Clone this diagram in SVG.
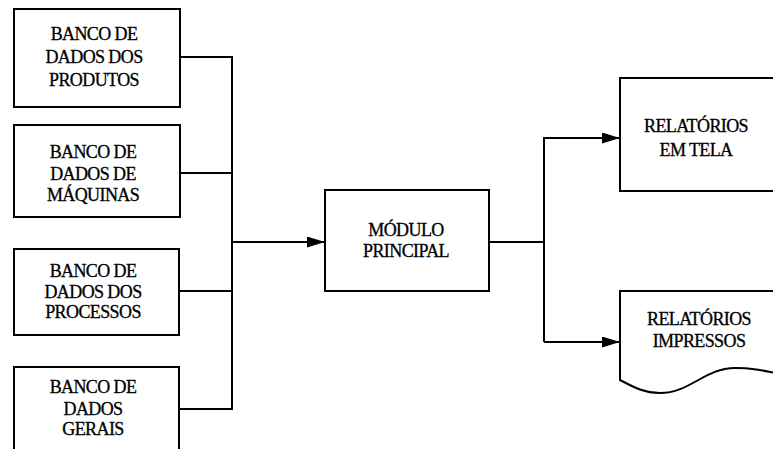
<svg xmlns="http://www.w3.org/2000/svg" width="773" height="449" viewBox="0 0 773 449">
<style>
.box{fill:none;stroke:#000;stroke-width:2}
.c{fill:none;stroke:#000;stroke-width:2}
.t{font-family:"Liberation Serif",serif;font-size:18px;fill:#000;text-anchor:middle;letter-spacing:-0.6px;stroke:#000;stroke-width:0.3}
</style>
<defs>
<marker id="ah" viewBox="0 0 18 11" refX="18" refY="5.5" markerWidth="18" markerHeight="11" markerUnits="userSpaceOnUse" orient="auto">
<path d="M0,0 L18,5.5 L0,11 Z" fill="#000"/>
</marker>
</defs>
<rect width="773" height="449" fill="#fff"/>
<g id="n1">
<rect class="box" x="14" y="9" width="166" height="98"/>
<text class="t" font-family="Liberation Serif" font-size="18" x="94" y="40">BANCO DE</text>
<text class="t" font-family="Liberation Serif" font-size="18" x="94" y="63">DADOS DOS</text>
<text class="t" font-family="Liberation Serif" font-size="18" x="94" y="86">PRODUTOS</text>
</g>
<g id="n2">
<rect class="box" x="14" y="125" width="166" height="92"/>
<text class="t" font-family="Liberation Serif" font-size="18" x="93" y="158">BANCO DE</text>
<text class="t" font-family="Liberation Serif" font-size="18" x="93" y="180">DADOS DE</text>
<text class="t" font-family="Liberation Serif" font-size="18" x="93" y="201">MÁQUINAS</text>
</g>
<g id="n3">
<rect class="box" x="14" y="249" width="165" height="86"/>
<text class="t" font-family="Liberation Serif" font-size="18" x="93" y="277">BANCO DE</text>
<text class="t" font-family="Liberation Serif" font-size="18" x="93" y="298">DADOS DOS</text>
<text class="t" font-family="Liberation Serif" font-size="18" x="93" y="318">PROCESSOS</text>
</g>
<g id="n4">
<path class="box" d="M14,460 V367 H179 V460"/>
<text class="t" font-family="Liberation Serif" font-size="18" x="93" y="393">BANCO DE</text>
<text class="t" font-family="Liberation Serif" font-size="18" x="93" y="415">DADOS</text>
<text class="t" font-family="Liberation Serif" font-size="18" x="93" y="435">GERAIS</text>
</g>
<g id="n5">
<rect class="box" x="325" y="190" width="164" height="101"/>
<text class="t" font-family="Liberation Serif" font-size="18" x="406" y="236">MÓDULO</text>
<text class="t" font-family="Liberation Serif" font-size="18" x="406" y="257">PRINCIPAL</text>
</g>
<g id="n6">
<path class="box" d="M790,78 H620 V191 H790"/>
<text class="t" font-family="Liberation Serif" font-size="18" x="696" y="132">RELATÓRIOS</text>
<text class="t" font-family="Liberation Serif" font-size="18" x="696" y="156">EM TELA</text>
</g>
<g id="n7">
<path class="box" d="M790,291 H620 V380 C635,388 645,393 660,393 C690,393 705,368 735,368 C755,368 765,371 790,376"/>
<text class="t" font-family="Liberation Serif" font-size="18" x="699" y="325">RELATÓRIOS</text>
<text class="t" font-family="Liberation Serif" font-size="18" x="699" y="347">IMPRESSOS</text>
</g>
<g id="connectors">
<path class="c" d="M180,57 H232 V409 H179"/>
<path class="c" d="M180,173 H232"/>
<path class="c" d="M179,291 H232"/>
<path class="c" d="M232,242 H325" marker-end="url(#ah)"/>
<path class="c" d="M489,242 H544"/>
<path class="c" d="M544,342 V138 H620" marker-end="url(#ah)"/>
<path class="c" d="M544,342 H620" marker-end="url(#ah)"/>
</g>
</svg>
